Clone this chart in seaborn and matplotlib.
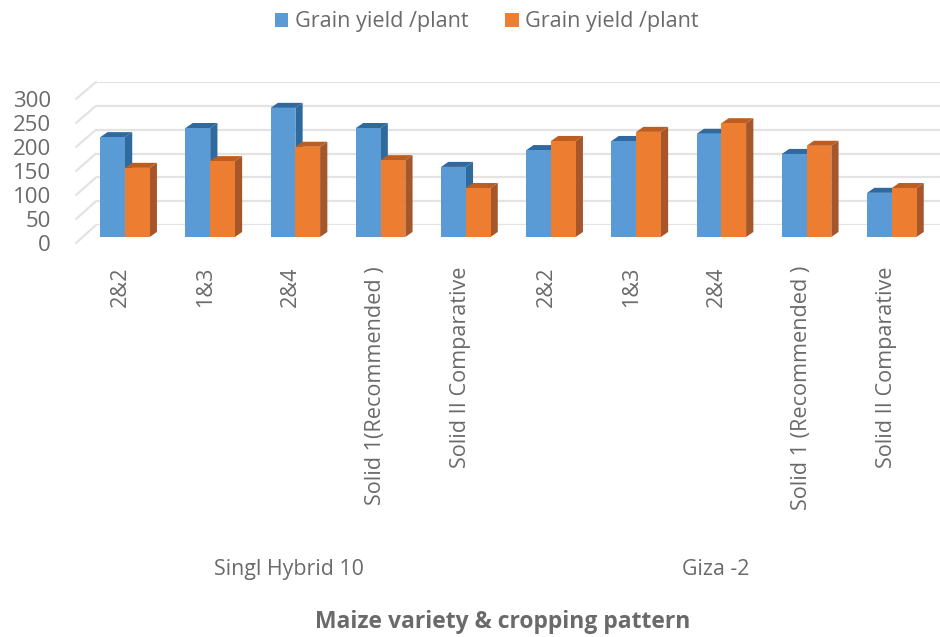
import matplotlib
matplotlib.use("Agg")
import matplotlib.pyplot as plt
import matplotlib.transforms as mtrans
from matplotlib.patches import ConnectionPatch, Polygon
import pandas as pd
import seaborn as sns

patterns = ["2&2", "1&3", "2&4", "Solid 1(Recommended )", "Solid II Comparative",
            "2&2", "1&3", "2&4", "Solid 1 (Recommended )", "Solid II Comparative"]
first_series = [208, 227, 269, 227, 146, 181, 200, 215, 173, 92]
second_series = [144, 158, 188, 160, 102, 200, 219, 237, 190, 102]
legend_labels = ["Grain yield /plant", "Grain yield /plant"]
yticks = [0, 50, 100, 150, 200, 250, 300]
varieties = ["Singl Hybrid 10", "Giza -2"]

W, H = 940, 637
GREY = "#6a6a6a"
colors = ["#5b9bd5", "#ed7d31"]
side_colors = ["#2f6a9f", "#a5562a"]
top_colors = ["#30699f", "#bd5d1f"]

sns.set_theme(style="white")
plt.rcParams["font.family"] = ["Open Sans", "DejaVu Sans"]

df = pd.DataFrame({
    "slot": list(range(10)) * 2,
    "series": ["a"] * 10 + ["b"] * 10,
    "value": first_series + second_series,
})


def px_axes(fig, left, right, y0, y300):
    # axes from pixel box, y measured from the top of the picture
    return fig.add_axes([left / W, 1 - y0 / H, (right - left) / W, (y0 - y300) / H])


fig = plt.figure(figsize=(W / 100, H / 100), dpi=100)

# floor edge (tick labels) and back wall (gridlines)
ax_front = px_axes(fig, 76, 76.5, 243, 99)
ax_back = px_axes(fig, 96, 940, 225, 82)
for a in (ax_front, ax_back):
    a.set_ylim(0, 300)
    a.set_yticks(yticks)
    a.set_xticks([])
    a.patch.set_alpha(0)
    sns.despine(ax=a, left=True, bottom=True)
ax_front.tick_params(axis="y", length=0, pad=18, labelsize=16, labelcolor=GREY)
ax_back.set_yticklabels([])
ax_back.tick_params(axis="y", length=0)
ax_back.yaxis.grid(True, color="#e3e3e3", lw=1.6)
for v in yticks:
    fig.add_artist(ConnectionPatch(
        xyA=(0, v), coordsA=ax_front.get_yaxis_transform(),
        xyB=(0, v), coordsB=ax_back.get_yaxis_transform(),
        color="#e3e3e3", lw=1.6,
    ))

# the bars
ax = px_axes(fig, 82.4, 934.4, 237, 93)
ax.patch.set_alpha(0)
sns.barplot(data=df, x="slot", y="value", hue="series", hue_order=["a", "b"],
            palette=colors, width=0.58, gap=0, ax=ax, saturation=1, legend=False,
            linewidth=0)
ax.set_xlim(-0.5, 9.5)
ax.set_ylim(0, 300)
ax.set_yticks([])
ax.set_xlabel("")
ax.set_ylabel("")
sns.despine(ax=ax, left=True, bottom=True)

# fake 3d depth, taken from each bar
dx, dy = 0.085, 10.5
for cont, side, top in zip(ax.containers, side_colors, top_colors):
    for bar in cont:
        bar.set_zorder(3)
        x0, x1, h = bar.get_x(), bar.get_x() + bar.get_width(), bar.get_height()
        ax.add_patch(Polygon([(x1, 0), (x1 + dx, dy), (x1 + dx, h + dy), (x1, h)],
                             fc=side, ec="none", zorder=2, clip_on=False))
        ax.add_patch(Polygon([(x0, h), (x0 + dx, h + dy), (x1 + dx, h + dy), (x1, h)],
                             fc=top, ec="none", zorder=2, clip_on=False))

ax.set_xticks(range(10))
ax.set_xticklabels(patterns, rotation=90, va="top", ha="center", color=GREY, fontsize=15.6)
ax.tick_params(axis="x", length=0, pad=21)
shift = mtrans.ScaledTranslation(-5 / 100, 0, fig.dpi_scale_trans)
for lab in ax.get_xticklabels():
    lab.set_transform(lab.get_transform() + shift)

# variety names under the two groups
trans = ax.get_xaxis_transform()
ax.text(1.93, -2.31, varieties[0], transform=trans, ha="center", va="center",
        color=GREY, fontsize=15.4)
ax.text(6.93, -2.31, varieties[1], transform=trans, ha="center", va="center",
        color=GREY, fontsize=15.4)
fig.text(503 / W, 1 - 622 / H, "Maize variety & cropping pattern", ha="center", va="center",
         color=GREY, fontsize=16.5, fontweight="bold")

handles = [plt.Rectangle((0, 0), 1, 1, fc=c, ec="none") for c in colors]
fig.legend(handles, legend_labels, ncol=2, loc="center", bbox_to_anchor=(487 / W, 1 - 22 / H),
           frameon=False, fontsize=15.6, labelcolor=GREY, handlelength=0.62, handleheight=0.62,
           columnspacing=1.7, handletextpad=0.3)

fig.savefig("out.png", dpi=100)
